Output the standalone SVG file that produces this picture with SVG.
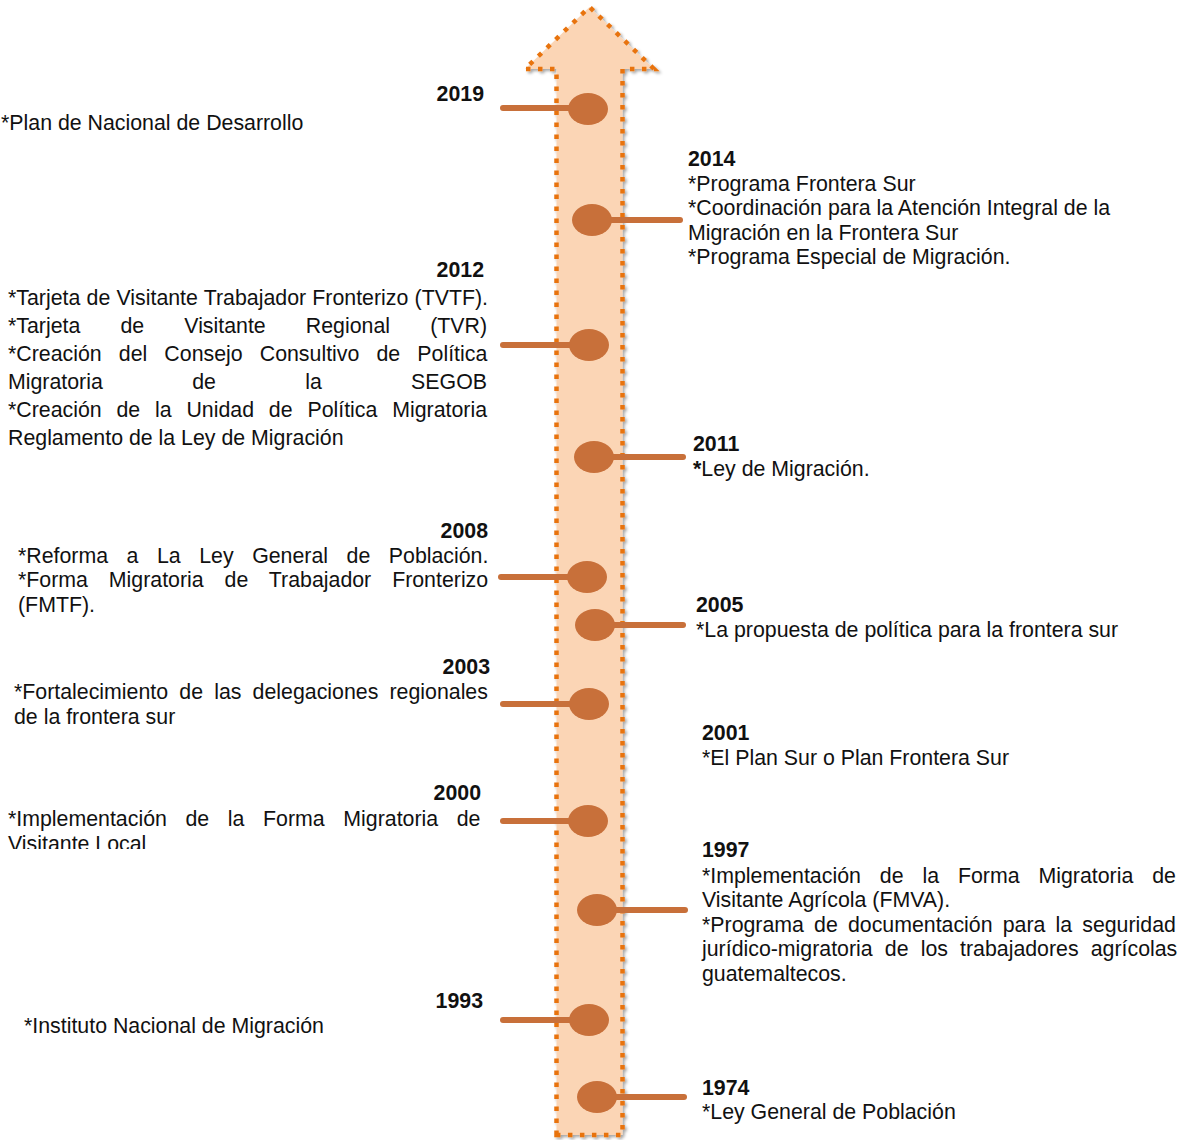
<svg xmlns="http://www.w3.org/2000/svg" width="1179" height="1140" viewBox="0 0 1179 1140">
  <style>
    text { font-family: "Liberation Sans", Arial, sans-serif; font-size: 21.33px; fill: #111; }
    .yr { font-weight: bold; }
    .end { text-anchor: end; }
    .dot { fill: #C8703A; }
    .stem { stroke: #C8703A; stroke-width: 6; stroke-linecap: round; fill: none; }
  </style>
  <defs>
    <filter id="shadow" x="-20%" y="-5%" width="140%" height="110%">
      <feDropShadow dx="2" dy="2" stdDeviation="1.5" flood-color="#000" flood-opacity="0.35"/>
    </filter>
    <clipPath id="clip2000">
      <rect x="0" y="780" width="500" height="69"/>
    </clipPath>
  </defs>

  <!-- timeline arrow -->
  <g id="arrow" filter="url(#shadow)">
    <path d="M556.5,1135 L556.5,69 L525,69 L589.5,7 L654,69 L622.5,69 L622.5,1135 Z"
          fill="#FBD5B5" stroke="#E8730E" stroke-width="4.5" stroke-dasharray="4.5 7.5"/>
  </g>

  <!-- stems from the markers to the labels -->
  <g id="connectors">
    <line class="stem" x1="503" y1="108" x2="585" y2="108"/>
    <line class="stem" x1="595" y1="220" x2="680" y2="220"/>
    <line class="stem" x1="503" y1="345" x2="585" y2="345"/>
    <line class="stem" x1="597" y1="457" x2="683" y2="457"/>
    <line class="stem" x1="501" y1="577" x2="585" y2="577"/>
    <line class="stem" x1="598" y1="625" x2="683" y2="625"/>
    <line class="stem" x1="503" y1="704" x2="585" y2="704"/>
    <line class="stem" x1="503" y1="821" x2="585" y2="821"/>
    <line class="stem" x1="600" y1="910" x2="685" y2="910"/>
    <line class="stem" x1="503" y1="1020" x2="585" y2="1020"/>
    <line class="stem" x1="600" y1="1097" x2="684" y2="1097"/>
  </g>

  <g id="y2019">
    <ellipse class="dot" cx="588" cy="109" rx="20" ry="16"/>
    <text class="yr end" x="484" y="101">2019</text>
    <text x="1" y="130">*Plan de Nacional de Desarrollo</text>
  </g>

  <g id="y2014">
    <ellipse class="dot" cx="592" cy="220" rx="20" ry="16"/>
    <text class="yr" x="688" y="166">2014</text>
    <text x="688" y="191">*Programa Frontera Sur</text>
    <text x="688" y="215">*Coordinación para la Atención Integral de la</text>
    <text x="688" y="240">Migración en la Frontera Sur</text>
    <text x="688" y="264">*Programa Especial de Migración.</text>
  </g>

  <g id="y2012">
    <ellipse class="dot" cx="589" cy="345" rx="20" ry="16"/>
    <text class="yr end" x="484" y="277">2012</text>
    <text x="8" y="305" style="word-spacing:0.3px">*Tarjeta de Visitante Trabajador Fronterizo (TVTF).</text>
    <text x="8" y="333" style="word-spacing:34.2px">*Tarjeta de Visitante Regional (TVR)</text>
    <text x="8" y="361" style="word-spacing:11.2px">*Creación del Consejo Consultivo de Política</text>
    <text x="8" y="389" style="word-spacing:83.4px">Migratoria de la SEGOB</text>
    <text x="8" y="417" style="word-spacing:8.9px">*Creación de la Unidad de Política Migratoria</text>
    <text x="8" y="445">Reglamento de la Ley de Migración</text>
  </g>

  <g id="y2011">
    <ellipse class="dot" cx="594" cy="457" rx="20" ry="16"/>
    <text class="yr" x="693" y="451">2011</text>
    <text x="693" y="476"><tspan font-weight="bold">*</tspan>Ley de Migración.</text>
  </g>

  <g id="y2008">
    <ellipse class="dot" cx="587" cy="577" rx="20" ry="16"/>
    <text class="yr end" x="488" y="538">2008</text>
    <text x="18" y="563" style="word-spacing:12.6px">*Reforma a La Ley General de Población.</text>
    <text x="18" y="587" style="word-spacing:15px">*Forma Migratoria de Trabajador Fronterizo</text>
    <text x="18" y="612">(FMTF).</text>
  </g>

  <g id="y2005">
    <ellipse class="dot" cx="595" cy="625" rx="20" ry="16"/>
    <text class="yr" x="696" y="612">2005</text>
    <text x="696" y="637">*La propuesta de política para la frontera sur</text>
  </g>

  <g id="y2003">
    <ellipse class="dot" cx="589" cy="704" rx="20" ry="16"/>
    <text class="yr end" x="490" y="674">2003</text>
    <text x="14" y="699" style="word-spacing:5.25px">*Fortalecimiento de las delegaciones regionales</text>
    <text x="14" y="724">de la frontera sur</text>
  </g>

  <g id="y2001">
    <text class="yr" x="702" y="740">2001</text>
    <text x="702" y="765">*El Plan Sur o Plan Frontera Sur</text>
  </g>

  <g id="y2000">
    <ellipse class="dot" cx="588" cy="821" rx="20" ry="16"/>
    <text class="yr end" x="481" y="800">2000</text>
    <g clip-path="url(#clip2000)">
      <text x="8" y="826" style="word-spacing:12.7px">*Implementación de la Forma Migratoria de</text>
      <text x="8" y="851">Visitante Local</text>
    </g>
  </g>

  <g id="y1997">
    <ellipse class="dot" cx="597" cy="910" rx="20" ry="16"/>
    <text class="yr" x="702" y="857">1997</text>
    <text x="702" y="883" style="word-spacing:13px">*Implementación de la Forma Migratoria de</text>
    <text x="702" y="907">Visitante Agrícola (FMVA).</text>
    <text x="702" y="932" style="word-spacing:4.2px">*Programa de documentación para la seguridad</text>
    <text x="702" y="956" style="word-spacing:6.2px">jurídico-migratoria de los trabajadores agrícolas</text>
    <text x="702" y="981">guatemaltecos.</text>
  </g>

  <g id="y1993">
    <ellipse class="dot" cx="589" cy="1020" rx="20" ry="16"/>
    <text class="yr end" x="483" y="1008">1993</text>
    <text x="24" y="1033">*Instituto Nacional de Migración</text>
  </g>

  <g id="y1974">
    <ellipse class="dot" cx="597" cy="1097" rx="20" ry="16"/>
    <text class="yr" x="702" y="1095">1974</text>
    <text x="702" y="1119">*Ley General de Población</text>
  </g>
</svg>
